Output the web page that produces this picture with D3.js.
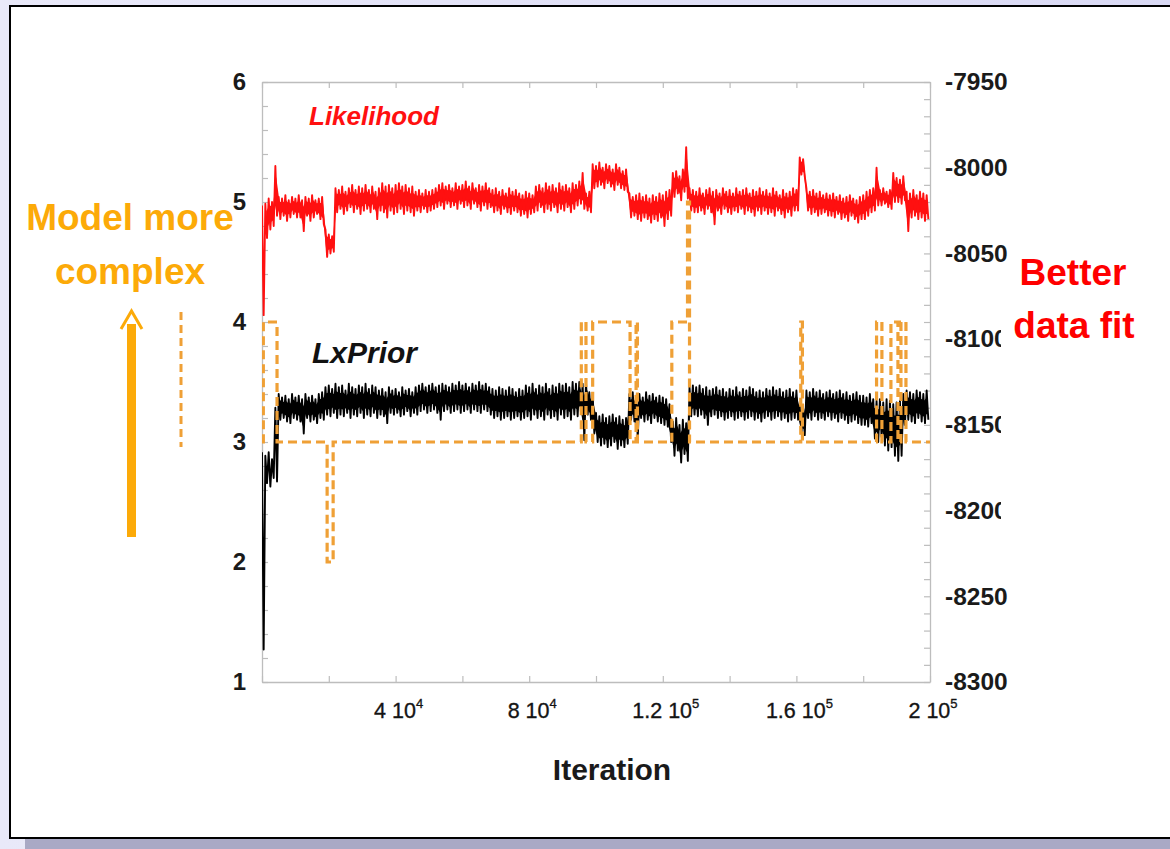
<!DOCTYPE html>
<html>
<head>
<meta charset="utf-8">
<script src="https://cdn.jsdelivr.net/npm/d3@7"></script>
<style>
  html, body { margin: 0; padding: 0; background: #e6e6f8; }
  svg { display: block; }
  text { font-family: "Liberation Sans", Arial, Helvetica, sans-serif; }
</style>
</head>
<body>
<svg id="chart" width="1170" height="849"></svg>
<script>
// ---- MCMC run: trace of log-likelihood and log(likelihood x prior), binned per 1000 iterations ----
const binWidth = 1000;

// log-likelihood: upper and lower edge of the trace within each bin
const likeHi = [
  -8022,-8021,-8018,-8020,-7999,-8017,-8018,-8016,-8019,-8017,
  -8018,-8016,-8019,-8017,-8018,-8016,-8019,-8018,-8017,-8036,
  -8039,-8040,-8012,-8013,-8011,-8014,-8012,-8010,-8013,-8011,
  -8012,-8010,-8013,-8011,-8014,-8012,-8009,-8011,-8010,-8012,
  -8010,-8009,-8011,-8010,-8012,-8011,-8014,-8013,-8015,-8013,
  -8014,-8013,-8012,-8010,-8009,-8011,-8010,-8012,-8009,-8011,
  -8010,-8008,-8011,-8009,-8012,-8010,-8011,-8009,-8012,-8013,
  -8012,-8014,-8013,-8015,-8012,-8014,-8013,-8015,-8016,-8014,
  -8015,-8016,-8011,-8010,-8012,-8009,-8011,-8010,-8012,-8009,
  -8011,-8010,-8012,-8009,-8010,-8008,-8003,-8015,-8014,-7998,
  -7999,-7997,-8000,-7998,-7999,-8001,-7998,-8000,-8002,-8001,
  -8015,-8017,-8016,-8015,-8017,-8016,-8018,-8016,-8017,-8015,
  -8016,-8014,-8013,-8003,-8002,-8005,-8001,-7988,-8012,-8013,
  -8014,-8012,-8015,-8013,-8012,-8014,-8013,-8015,-8012,-8014,
  -8013,-8015,-8012,-8014,-8013,-8012,-8015,-8013,-8014,-8012,
  -8014,-8013,-8015,-8012,-8014,-8016,-8013,-8015,-8014,-8012,
  -8013,-7994,-7995,-8012,-8014,-8013,-8015,-8014,-8016,-8015,
  -8016,-8015,-8017,-8016,-8018,-8017,-8016,-8018,-8019,-8017,
  -8016,-8014,-8013,-8012,-8000,-8013,-8012,-8014,-8013,-8003,
  -8006,-8007,-8005,-8014,-8015,-8013,-8016,-8014,-8015,-8016
];
const likeLo = [
  -8086,-8041,-8036,-8034,-8028,-8030,-8028,-8031,-8029,-8027,
  -8029,-8029,-8037,-8028,-8031,-8029,-8027,-8030,-8033,-8052,
  -8050,-8049,-8026,-8024,-8027,-8025,-8023,-8026,-8024,-8027,
  -8025,-8024,-8026,-8024,-8030,-8025,-8026,-8029,-8025,-8027,
  -8026,-8024,-8027,-8025,-8026,-8028,-8025,-8026,-8024,-8026,
  -8025,-8024,-8023,-8022,-8024,-8021,-8023,-8022,-8024,-8021,
  -8023,-8022,-8024,-8021,-8023,-8025,-8022,-8024,-8023,-8026,
  -8025,-8027,-8024,-8026,-8027,-8025,-8026,-8028,-8027,-8029,
  -8027,-8026,-8025,-8023,-8026,-8024,-8025,-8023,-8026,-8024,
  -8025,-8023,-8026,-8024,-8022,-8021,-8024,-8025,-8026,-8012,
  -8011,-8010,-8012,-8009,-8011,-8013,-8010,-8012,-8013,-8014,
  -8029,-8028,-8030,-8031,-8029,-8030,-8032,-8030,-8031,-8029,
  -8034,-8030,-8028,-8017,-8015,-8019,-8014,-8018,-8025,-8026,
  -8026,-8025,-8027,-8024,-8026,-8033,-8025,-8027,-8024,-8026,
  -8027,-8025,-8026,-8024,-8027,-8025,-8026,-8028,-8025,-8027,
  -8025,-8027,-8026,-8028,-8025,-8027,-8029,-8026,-8028,-8025,
  -8025,-8004,-8005,-8025,-8027,-8026,-8028,-8027,-8026,-8028,
  -8028,-8029,-8027,-8030,-8029,-8031,-8028,-8030,-8032,-8030,
  -8030,-8028,-8026,-8025,-8022,-8022,-8021,-8023,-8024,-8020,
  -8020,-8021,-8019,-8037,-8029,-8028,-8030,-8029,-8031,-8030
];

// log(likelihood x prior): upper and lower edge of the trace within each bin
const priorHi = [
  -8166,-8168,-8166,-8170,-8140,-8132,-8134,-8133,-8135,-8132,
  -8134,-8133,-8135,-8132,-8134,-8133,-8135,-8132,-8131,-8128,
  -8127,-8129,-8126,-8128,-8127,-8130,-8126,-8128,-8129,-8127,
  -8128,-8126,-8129,-8127,-8128,-8130,-8129,-8131,-8128,-8130,
  -8129,-8131,-8128,-8130,-8129,-8131,-8128,-8127,-8126,-8128,
  -8127,-8126,-8128,-8127,-8126,-8127,-8128,-8126,-8127,-8125,
  -8127,-8126,-8128,-8126,-8127,-8125,-8127,-8126,-8128,-8129,
  -8130,-8128,-8129,-8130,-8128,-8129,-8131,-8129,-8130,-8127,
  -8128,-8126,-8129,-8127,-8128,-8126,-8129,-8127,-8128,-8126,
  -8127,-8126,-8128,-8125,-8126,-8125,-8126,-8125,-8131,-8132,
  -8143,-8145,-8144,-8146,-8145,-8144,-8146,-8145,-8147,-8146,
  -8132,-8131,-8133,-8132,-8134,-8131,-8133,-8132,-8134,-8133,
  -8134,-8135,-8138,-8148,-8146,-8150,-8147,-8149,-8128,-8127,
  -8128,-8127,-8129,-8128,-8130,-8129,-8128,-8130,-8129,-8131,
  -8129,-8130,-8128,-8131,-8129,-8130,-8128,-8129,-8131,-8130,
  -8131,-8129,-8130,-8128,-8130,-8129,-8131,-8130,-8129,-8131,
  -8130,-8139,-8140,-8130,-8131,-8129,-8131,-8130,-8132,-8131,
  -8130,-8132,-8131,-8130,-8132,-8131,-8133,-8132,-8131,-8133,
  -8133,-8134,-8132,-8135,-8136,-8135,-8137,-8135,-8136,-8138,
  -8137,-8136,-8132,-8130,-8131,-8132,-8130,-8131,-8132,-8130
];
const priorLo = [
  -8281,-8184,-8186,-8181,-8183,-8147,-8146,-8148,-8149,-8146,
  -8147,-8148,-8155,-8146,-8148,-8147,-8149,-8146,-8147,-8144,
  -8145,-8143,-8146,-8144,-8145,-8143,-8146,-8144,-8145,-8143,
  -8146,-8144,-8145,-8143,-8146,-8144,-8145,-8149,-8143,-8144,
  -8143,-8145,-8144,-8142,-8145,-8143,-8144,-8142,-8141,-8143,
  -8142,-8141,-8143,-8147,-8142,-8141,-8143,-8142,-8141,-8143,
  -8142,-8141,-8143,-8141,-8142,-8143,-8141,-8142,-8144,-8146,
  -8145,-8147,-8146,-8145,-8147,-8146,-8145,-8147,-8146,-8145,
  -8147,-8144,-8146,-8145,-8147,-8144,-8146,-8145,-8147,-8144,
  -8146,-8145,-8147,-8144,-8145,-8143,-8159,-8144,-8147,-8155,
  -8160,-8162,-8161,-8163,-8162,-8160,-8164,-8162,-8163,-8161,
  -8147,-8148,-8158,-8146,-8148,-8147,-8149,-8146,-8148,-8149,
  -8150,-8151,-8160,-8168,-8165,-8172,-8167,-8171,-8145,-8144,
  -8145,-8144,-8146,-8150,-8145,-8144,-8146,-8145,-8147,-8146,
  -8145,-8147,-8146,-8145,-8147,-8146,-8145,-8147,-8146,-8148,
  -8146,-8145,-8147,-8146,-8145,-8147,-8146,-8148,-8147,-8146,
  -8147,-8155,-8156,-8146,-8147,-8145,-8147,-8146,-8147,-8145,
  -8147,-8146,-8148,-8146,-8147,-8149,-8148,-8147,-8149,-8150,
  -8150,-8151,-8149,-8158,-8160,-8157,-8162,-8165,-8163,-8168,
  -8171,-8168,-8150,-8147,-8148,-8149,-8146,-8148,-8149,-8147
];

// number of model components: value held from each listed iteration onward
const kIter = [0, 400, 4500, 19500, 21300, 95600, 97000, 99000, 110200, 112000, 112400,
               122700, 127400, 128000, 161300, 161800, 184000, 185600, 188300, 190400,
               191300, 192800, 200000];
const kVal  = [3, 4, 3, 2, 3, 4, 3, 4, 3, 4, 3,
               4, 5, 3, 4, 3, 4, 3, 4, 3,
               4, 3, 3];

// axis ticks
const leftTicks = [1, 2, 3, 4, 5, 6];
const rightTicks = [-8300, -8250, -8200, -8150, -8100, -8050, -8000, -7950];
const xTickVals = [40000, 80000, 120000, 160000, 200000];
const xTickMant = ["4", "8", "1.2", "1.6", "2"];
const xTickExp  = ["4", "4", "5", "5", "5"];

// ---- layout ----
const svg = d3.select("#chart");
const W = 1170, H = 849;
const plot = { left: 262, right: 930, top: 82, bottom: 682 };

const x = d3.scaleLinear().domain([0, 200000]).range([plot.left, plot.right]);
const yL = d3.scaleLinear().domain([1, 6]).range([plot.bottom, plot.top]);
const yR = d3.scaleLinear().domain([-8300, -7950]).range([plot.bottom, plot.top]);

// slide background and panel
const defs = svg.append("defs");
const bgGrad = defs.append("linearGradient").attr("id", "bgGrad").attr("x1", 0).attr("x2", 1).attr("y1", 0).attr("y2", 0);
bgGrad.append("stop").attr("offset", "0%").attr("stop-color", "#e9e9f9");
bgGrad.append("stop").attr("offset", "100%").attr("stop-color", "#d9d9f4");
svg.append("rect").attr("width", W).attr("height", H).attr("fill", "url(#bgGrad)");
svg.append("rect").attr("x", 25).attr("y", 839).attr("width", W - 25).attr("height", 10).attr("fill", "#a9a9c5");
svg.append("rect").attr("x", 10).attr("y", 6).attr("width", W + 10).attr("height", 832)
  .attr("fill", "#ffffff").attr("stroke", "#000").attr("stroke-width", 2);

defs.append("clipPath").attr("id", "plotClip").append("rect")
  .attr("x", plot.left).attr("y", plot.top - 2)
  .attr("width", plot.right - plot.left).attr("height", plot.bottom - plot.top + 4);

// ---- axes (ticks point into the plot) ----
const axisColor = "#bdbdbd";
function styleAxis(g) {
  g.selectAll(".domain").attr("stroke", axisColor).attr("stroke-width", 1.3);
  g.selectAll(".tick line").attr("stroke", axisColor).attr("stroke-width", 1.2);
}

const leftMinor = d3.range(1, 6.001, 0.2).map(v => +v.toFixed(1));
const gLeft = svg.append("g").attr("transform", `translate(${plot.left},0)`)
  .call(d3.axisLeft(yL).tickValues(leftMinor).tickSize(-6).tickSizeOuter(0).tickPadding(16)
    .tickFormat(v => leftTicks.includes(v) ? d3.format("d")(v) : ""));
styleAxis(gLeft);
gLeft.selectAll("text").attr("font-size", 24).attr("font-weight", "bold").attr("fill", "#1a1a1a")
  .attr("font-family", "Liberation Sans, Arial, sans-serif");

const rightMinor = d3.range(-8300, -7949, 10);
const gRight = svg.append("g").attr("transform", `translate(${plot.right},0)`)
  .call(d3.axisRight(yR).tickValues(rightMinor).tickSize(-6).tickSizeOuter(0).tickPadding(15)
    .tickFormat(v => rightTicks.includes(v) ? String(v) : ""));
styleAxis(gRight);
gRight.selectAll("text").attr("font-size", 24.5).attr("font-weight", "bold").attr("fill", "#1a1a1a")
  .attr("font-family", "Liberation Sans, Arial, sans-serif");

const xMinor = d3.range(0, 200001, 20000);
const gBottom = svg.append("g").attr("transform", `translate(0,${plot.bottom})`)
  .call(d3.axisBottom(x).tickValues(xMinor).tickSize(-6).tickSizeOuter(0).tickFormat(""));
styleAxis(gBottom);
const gTop = svg.append("g").attr("transform", `translate(0,${plot.top})`)
  .call(d3.axisTop(x).tickValues(xMinor).tickSize(-6).tickSizeOuter(0).tickFormat(""));
styleAxis(gTop);

// x tick labels written as "m 10^e"
const xLab = svg.append("g").attr("font-size", 21.5).attr("fill", "#141414");
xTickVals.forEach((v, i) => {
  const t = xLab.append("text").attr("x", x(v) + 3).attr("y", plot.bottom + 36).attr("text-anchor", "middle")
    .attr("stroke", "#141414").attr("stroke-width", 0.35);
  t.append("tspan").text(xTickMant[i] + " 10");
  t.append("tspan").attr("font-size", 13).attr("dy", -10).text(xTickExp[i]);
});

svg.append("text").attr("x", 612).attr("y", 780).attr("text-anchor", "middle")
  .attr("font-size", 30).attr("font-weight", "bold").attr("fill", "#1a1a1a").text("Iteration");

// ---- traces ----
function zigzag(hi, lo) {
  const pts = [];
  hi.forEach((h, i) => {
    pts.push([i * binWidth, h]);
    pts.push([i * binWidth + binWidth / 2, lo[i]]);
  });
  return pts;
}
// solid core of each band: middle half of the per-bin range
function coreArea() {
  return d3.area()
    .x((d, i) => x(i * binWidth + binWidth / 4))
    .y0(d => yR(d.lo + (d.hi - d.lo) * 0.22))
    .y1(d => yR(d.hi - (d.hi - d.lo) * 0.22));
}
const traceLine = d3.line().x(d => x(d[0])).y(d => yR(d[1]));
const traces = svg.append("g").attr("clip-path", "url(#plotClip)");

const likeBins = likeHi.map((h, i) => ({ hi: h, lo: likeLo[i] }));
const priorBins = priorHi.map((h, i) => ({ hi: h, lo: priorLo[i] }));

traces.append("path").datum(likeBins.slice(1)).attr("transform", `translate(${x(binWidth) - x(0)},0)`)
  .attr("d", coreArea()).attr("fill", "#ff1010");
traces.append("path").datum(zigzag(likeHi, likeLo))
  .attr("d", traceLine).attr("fill", "none").attr("stroke", "#ff1010")
  .attr("stroke-width", 1.9).attr("stroke-linejoin", "round");

traces.append("path").datum(priorBins.slice(5)).attr("transform", `translate(${x(5 * binWidth) - x(0)},0)`)
  .attr("d", coreArea()).attr("fill", "#000");
traces.append("path").datum(zigzag(priorHi, priorLo))
  .attr("d", traceLine).attr("fill", "none").attr("stroke", "#000")
  .attr("stroke-width", 1.9).attr("stroke-linejoin", "round");

// number of components, dashed step line on the left axis
const kLine = d3.line().x((d, i) => x(kIter[i])).y(d => yL(d)).curve(d3.curveStepAfter);
traces.append("path").datum(kVal).attr("d", kLine).attr("fill", "none")
  .attr("stroke", "#efa036").attr("stroke-width", 3.2).attr("stroke-dasharray", "9,5");

// dashed key for the component count
svg.append("line").attr("x1", 181).attr("x2", 181).attr("y1", 312).attr("y2", 447)
  .attr("stroke", "#efa036").attr("stroke-width", 3).attr("stroke-dasharray", "8,5");

// series labels
svg.append("text").attr("x", 309).attr("y", 125).attr("font-size", 26).attr("font-weight", "bold")
  .attr("font-style", "italic").attr("fill", "#ff1010").text("Likelihood");
svg.append("text").attr("x", 312).attr("y", 363).attr("font-size", 30).attr("font-weight", "bold")
  .attr("font-style", "italic").attr("fill", "#111").text("LxPrior");

// ---- side annotations ----
const orange = "#fcaa08";
svg.append("text").attr("x", 130).attr("y", 230).attr("text-anchor", "middle").attr("font-size", 37)
  .attr("font-weight", "bold").attr("fill", orange).text("Model more");
svg.append("text").attr("x", 130).attr("y", 284).attr("text-anchor", "middle").attr("font-size", 37)
  .attr("font-weight", "bold").attr("fill", orange).text("complex");
svg.append("rect").attr("x", 127).attr("y", 324).attr("width", 9).attr("height", 213).attr("fill", orange);
svg.append("polyline").attr("points", "121,329 131.5,311 142,329").attr("fill", "none")
  .attr("stroke", orange).attr("stroke-width", 3);

// text box on the right (covers the tail of the neighbouring axis labels)
svg.append("rect").attr("x", 1001).attr("y", 298).attr("width", 170).attr("height", 232).attr("fill", "#fff");
svg.append("text").attr("x", 1073).attr("y", 285).attr("text-anchor", "middle").attr("font-size", 37)
  .attr("font-weight", "bold").attr("fill", "#ff0000").text("Better");
svg.append("text").attr("x", 1074).attr("y", 338).attr("text-anchor", "middle").attr("font-size", 37)
  .attr("font-weight", "bold").attr("fill", "#ff0000").text("data fit");
</script>
</body>
</html>
